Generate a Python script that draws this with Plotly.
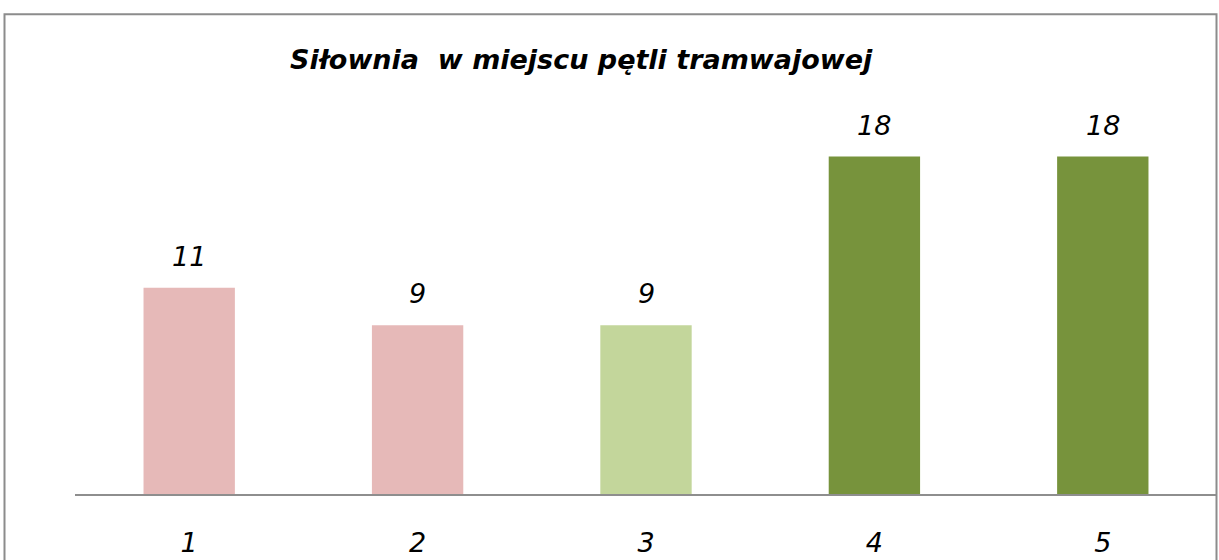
import plotly.graph_objects as go

categories = ["1", "2", "3", "4", "5"]
values = [11, 9, 9, 18, 18]
bar_colors = ["#E6B9B8", "#E6B9B8", "#C3D69B", "#77933C", "#77933C"]
title_text = "Siłownia  w miejscu pętli tramwajowej"

W, H = 1219, 560
L, R, T, B = 75, 2, 119, 53
pw = W - L - R
ph = H - T - B

fig = go.Figure()
fig.add_trace(go.Bar(
    x=categories, y=values,
    marker=dict(color=bar_colors, line=dict(width=0)),
    width=0.4,
    hoverinfo="skip",
))

font_lbl = dict(family="DejaVu Sans", size=27, color="#000000", style="italic")
# category axis: annotation x given as category index
for i, v in enumerate(values):
    fig.add_annotation(x=i, y=v, text=str(v), showarrow=False,
                       yanchor="bottom", yshift=14, font=font_lbl)

def px_to_paper_x(px):
    return (px - L) / pw

def px_to_paper_y(py):
    return (H - B - py) / ph

fig.add_shape(type="rect", xref="paper", yref="paper",
              x0=px_to_paper_x(4.5), x1=px_to_paper_x(1216.5),
              y0=px_to_paper_y(600), y1=px_to_paper_y(10.5),
              line=dict(color="#8C8C8C", width=2), fillcolor="rgba(0,0,0,0)",
              layer="above")

fig.add_annotation(xref="paper", yref="paper",
                   x=px_to_paper_x(581), y=px_to_paper_y(57),
                   text="<b><i>" + title_text + "</i></b>", showarrow=False,
                   xanchor="center", yanchor="middle",
                   font=dict(family="DejaVu Sans", size=27, color="#000000"))

fig.update_layout(
    width=W, height=H,
    margin=dict(l=L, r=R, t=T, b=B, pad=0),
    plot_bgcolor="white", paper_bgcolor="white",
    showlegend=False,
    xaxis=dict(type="category", showline=True, linecolor="#8E8E8E", linewidth=2,
               showgrid=False, zeroline=False, ticks="",
               tickfont=dict(family="DejaVu Sans", size=27, color="#000000", style="italic"),
               ticklabelstandoff=24),
    yaxis=dict(range=[0, 20], visible=False, showgrid=False, zeroline=False),
)

fig.write_html("out.html", config={"displayModeBar": False},
               post_script="document.body.style.margin='0';document.body.style.overflow='hidden';")
